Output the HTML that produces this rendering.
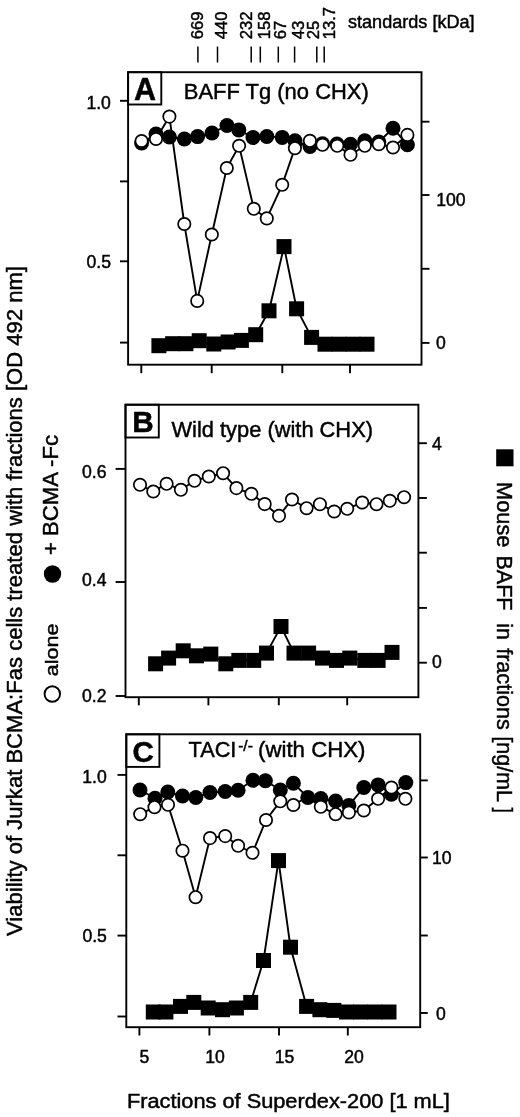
<!DOCTYPE html>
<html><head><meta charset="utf-8"><title>Figure</title>
<style>
html,body{margin:0;padding:0;background:#fff;}
svg{display:block;}
svg text{font-family:"Liberation Sans", sans-serif;fill:#000;stroke:#000;stroke-width:0.45px;}
</style></head>
<body>
<svg width="520" height="1117" viewBox="0 0 520 1117">
<rect x="0" y="0" width="520" height="1117" fill="#fff"/>
<line x1="197.9" y1="46.5" x2="197.9" y2="62.5" stroke="#000" stroke-width="1.5"/>
<text x="203.0" y="39.2" font-size="16.6" text-anchor="start" font-weight="normal" transform="rotate(-90 203.0 39.2)">669</text>
<line x1="217.5" y1="46.5" x2="217.5" y2="62.5" stroke="#000" stroke-width="1.5"/>
<text x="227.0" y="39.2" font-size="16.6" text-anchor="start" font-weight="normal" transform="rotate(-90 227.0 39.2)">440</text>
<line x1="251.2" y1="46.5" x2="251.2" y2="62.5" stroke="#000" stroke-width="1.5"/>
<text x="252.4" y="39.2" font-size="16.6" text-anchor="start" font-weight="normal" transform="rotate(-90 252.4 39.2)">232</text>
<line x1="260.3" y1="46.5" x2="260.3" y2="62.5" stroke="#000" stroke-width="1.5"/>
<text x="270.0" y="39.2" font-size="16.6" text-anchor="start" font-weight="normal" transform="rotate(-90 270.0 39.2)">158</text>
<line x1="278.3" y1="46.5" x2="278.3" y2="62.5" stroke="#000" stroke-width="1.5"/>
<text x="286.0" y="39.2" font-size="16.6" text-anchor="start" font-weight="normal" transform="rotate(-90 286.0 39.2)">67</text>
<line x1="294.6" y1="46.5" x2="294.6" y2="62.5" stroke="#000" stroke-width="1.5"/>
<text x="304.0" y="39.2" font-size="16.6" text-anchor="start" font-weight="normal" transform="rotate(-90 304.0 39.2)">43</text>
<line x1="316.8" y1="46.5" x2="316.8" y2="62.5" stroke="#000" stroke-width="1.5"/>
<text x="319.0" y="39.2" font-size="16.6" text-anchor="start" font-weight="normal" transform="rotate(-90 319.0 39.2)">25</text>
<line x1="324.2" y1="46.5" x2="324.2" y2="62.5" stroke="#000" stroke-width="1.5"/>
<text x="335.4" y="39.2" font-size="16.6" text-anchor="start" font-weight="normal" transform="rotate(-90 335.4 39.2)">13.7</text>
<text x="348" y="28.2" font-size="18" text-anchor="start" font-weight="normal" textLength="126.6" lengthAdjust="spacingAndGlyphs">standards [kDa]</text>
<rect x="128.1" y="72.2" width="293.4" height="292.5" fill="none" stroke="#000" stroke-width="1.9"/>
<line x1="120" y1="100.8" x2="128.1" y2="100.8" stroke="#000" stroke-width="1.9"/>
<line x1="120" y1="181.4" x2="128.1" y2="181.4" stroke="#000" stroke-width="1.9"/>
<line x1="120" y1="261.3" x2="128.1" y2="261.3" stroke="#000" stroke-width="1.9"/>
<line x1="120" y1="342.6" x2="128.1" y2="342.6" stroke="#000" stroke-width="1.9"/>
<line x1="421.5" y1="121.7" x2="429.5" y2="121.7" stroke="#000" stroke-width="1.9"/>
<line x1="421.5" y1="195" x2="429.5" y2="195" stroke="#000" stroke-width="1.9"/>
<line x1="421.5" y1="268.8" x2="429.5" y2="268.8" stroke="#000" stroke-width="1.9"/>
<line x1="421.5" y1="342.9" x2="429.5" y2="342.9" stroke="#000" stroke-width="1.9"/>
<line x1="141.3" y1="364.7" x2="141.3" y2="373.2" stroke="#000" stroke-width="1.9"/>
<line x1="211.7" y1="364.7" x2="211.7" y2="373.2" stroke="#000" stroke-width="1.9"/>
<line x1="282.3" y1="364.7" x2="282.3" y2="373.2" stroke="#000" stroke-width="1.9"/>
<line x1="350" y1="364.7" x2="350" y2="373.2" stroke="#000" stroke-width="1.9"/>
<rect x="128.1" y="72.2" width="33.2" height="32.3" fill="none" stroke="#000" stroke-width="1.9"/>
<text x="145.0" y="100" font-size="30.5" text-anchor="middle" font-weight="bold">A</text>
<text x="183.8" y="99.2" font-size="21.7" text-anchor="start" font-weight="normal" textLength="185" lengthAdjust="spacingAndGlyphs">BAFF Tg (no CHX)</text>
<text x="110.9" y="109.3" font-size="17.6" text-anchor="end" font-weight="normal">1.0</text>
<text x="111.0" y="268.3" font-size="17.6" text-anchor="end" font-weight="normal">0.5</text>
<text x="436.3" y="205.5" font-size="17.6" text-anchor="start" font-weight="normal">100</text>
<text x="436.0" y="348.6" font-size="17.6" text-anchor="start" font-weight="normal">0</text>
<polyline fill="none" stroke="#000" stroke-width="1.9" points="141.6,143 156,134 169.4,137 184.4,139 197.6,136.6 212,133 227,125.5 238.8,129.9 253,137.5 266.8,136.5 282.2,137.4 295,140.8 310,146.5 322.5,143.8 337,144 350.5,144.2 364.8,140.8 378.8,142 393,128.2 407.4,144.8"/>
<circle cx="141.6" cy="143" r="7.5" fill="#000"/>
<circle cx="156" cy="134" r="7.5" fill="#000"/>
<circle cx="169.4" cy="137" r="7.5" fill="#000"/>
<circle cx="184.4" cy="139" r="7.5" fill="#000"/>
<circle cx="197.6" cy="136.6" r="7.5" fill="#000"/>
<circle cx="212" cy="133" r="7.5" fill="#000"/>
<circle cx="227" cy="125.5" r="7.5" fill="#000"/>
<circle cx="238.8" cy="129.9" r="7.5" fill="#000"/>
<circle cx="253" cy="137.5" r="7.5" fill="#000"/>
<circle cx="266.8" cy="136.5" r="7.5" fill="#000"/>
<circle cx="282.2" cy="137.4" r="7.5" fill="#000"/>
<circle cx="295" cy="140.8" r="7.5" fill="#000"/>
<circle cx="310" cy="146.5" r="7.5" fill="#000"/>
<circle cx="322.5" cy="143.8" r="7.5" fill="#000"/>
<circle cx="337" cy="144" r="7.5" fill="#000"/>
<circle cx="350.5" cy="144.2" r="7.5" fill="#000"/>
<circle cx="364.8" cy="140.8" r="7.5" fill="#000"/>
<circle cx="378.8" cy="142" r="7.5" fill="#000"/>
<circle cx="393" cy="128.2" r="7.5" fill="#000"/>
<circle cx="407.4" cy="144.8" r="7.5" fill="#000"/>
<polyline fill="none" stroke="#000" stroke-width="1.9" points="141.6,141 156,139 169.4,116.6 184.3,224 197.2,300.9 211.8,234.5 226.8,168 239.1,145.8 253.8,208.8 266.8,218.4 282.2,184.8 294.9,148.2 309.9,140.8 322.5,144.8 337.2,145.8 350.5,154.8 364.8,145.8 378.8,144.2 393,147.5 407.4,134.9"/>
<circle cx="141.6" cy="141" r="6.2" fill="#fff" stroke="#000" stroke-width="1.7"/>
<circle cx="156" cy="139" r="6.2" fill="#fff" stroke="#000" stroke-width="1.7"/>
<circle cx="169.4" cy="116.6" r="6.2" fill="#fff" stroke="#000" stroke-width="1.7"/>
<circle cx="184.3" cy="224" r="6.2" fill="#fff" stroke="#000" stroke-width="1.7"/>
<circle cx="197.2" cy="300.9" r="6.2" fill="#fff" stroke="#000" stroke-width="1.7"/>
<circle cx="211.8" cy="234.5" r="6.2" fill="#fff" stroke="#000" stroke-width="1.7"/>
<circle cx="226.8" cy="168" r="6.2" fill="#fff" stroke="#000" stroke-width="1.7"/>
<circle cx="239.1" cy="145.8" r="6.2" fill="#fff" stroke="#000" stroke-width="1.7"/>
<circle cx="253.8" cy="208.8" r="6.2" fill="#fff" stroke="#000" stroke-width="1.7"/>
<circle cx="266.8" cy="218.4" r="6.2" fill="#fff" stroke="#000" stroke-width="1.7"/>
<circle cx="282.2" cy="184.8" r="6.2" fill="#fff" stroke="#000" stroke-width="1.7"/>
<circle cx="294.9" cy="148.2" r="6.2" fill="#fff" stroke="#000" stroke-width="1.7"/>
<circle cx="309.9" cy="140.8" r="6.2" fill="#fff" stroke="#000" stroke-width="1.7"/>
<circle cx="322.5" cy="144.8" r="6.2" fill="#fff" stroke="#000" stroke-width="1.7"/>
<circle cx="337.2" cy="145.8" r="6.2" fill="#fff" stroke="#000" stroke-width="1.7"/>
<circle cx="350.5" cy="154.8" r="6.2" fill="#fff" stroke="#000" stroke-width="1.7"/>
<circle cx="364.8" cy="145.8" r="6.2" fill="#fff" stroke="#000" stroke-width="1.7"/>
<circle cx="378.8" cy="144.2" r="6.2" fill="#fff" stroke="#000" stroke-width="1.7"/>
<circle cx="393" cy="147.5" r="6.2" fill="#fff" stroke="#000" stroke-width="1.7"/>
<circle cx="407.4" cy="134.9" r="6.2" fill="#fff" stroke="#000" stroke-width="1.7"/>
<polyline fill="none" stroke="#000" stroke-width="1.9" points="158.9,345.7 172.6,343.7 185.9,343.7 199.2,340.7 213.8,344 228.1,342 241.4,340.4 255.7,334.7 269,310.8 284,246.6 296.6,308.8 311.6,337.4 325,344.2 339,344.2 353,344.2 367,344.2"/>
<rect x="151.40" y="338.20" width="15" height="15" fill="#000"/>
<rect x="165.10" y="336.20" width="15" height="15" fill="#000"/>
<rect x="178.40" y="336.20" width="15" height="15" fill="#000"/>
<rect x="191.70" y="333.20" width="15" height="15" fill="#000"/>
<rect x="206.30" y="336.50" width="15" height="15" fill="#000"/>
<rect x="220.60" y="334.50" width="15" height="15" fill="#000"/>
<rect x="233.90" y="332.90" width="15" height="15" fill="#000"/>
<rect x="248.20" y="327.20" width="15" height="15" fill="#000"/>
<rect x="261.50" y="303.30" width="15" height="15" fill="#000"/>
<rect x="276.50" y="239.10" width="15" height="15" fill="#000"/>
<rect x="289.10" y="301.30" width="15" height="15" fill="#000"/>
<rect x="304.10" y="329.90" width="15" height="15" fill="#000"/>
<rect x="317.50" y="336.70" width="15" height="15" fill="#000"/>
<rect x="331.50" y="336.70" width="15" height="15" fill="#000"/>
<rect x="345.50" y="336.70" width="15" height="15" fill="#000"/>
<rect x="359.50" y="336.70" width="15" height="15" fill="#000"/>
<rect x="125.5" y="404.7" width="292.9" height="292.50000000000006" fill="none" stroke="#000" stroke-width="1.9"/>
<line x1="115.6" y1="468.9" x2="125.5" y2="468.9" stroke="#000" stroke-width="1.9"/>
<line x1="115.6" y1="582" x2="125.5" y2="582" stroke="#000" stroke-width="1.9"/>
<line x1="115.6" y1="696.0" x2="125.5" y2="696.0" stroke="#000" stroke-width="1.9"/>
<line x1="418.4" y1="443.2" x2="426.9" y2="443.2" stroke="#000" stroke-width="1.9"/>
<line x1="418.4" y1="498" x2="426.9" y2="498" stroke="#000" stroke-width="1.9"/>
<line x1="418.4" y1="552.7" x2="426.9" y2="552.7" stroke="#000" stroke-width="1.9"/>
<line x1="418.4" y1="607.9" x2="426.9" y2="607.9" stroke="#000" stroke-width="1.9"/>
<line x1="418.4" y1="662.7" x2="426.9" y2="662.7" stroke="#000" stroke-width="1.9"/>
<line x1="138.8" y1="697.2" x2="138.8" y2="705.3" stroke="#000" stroke-width="1.9"/>
<line x1="208.4" y1="697.2" x2="208.4" y2="705.3" stroke="#000" stroke-width="1.9"/>
<line x1="278.8" y1="697.2" x2="278.8" y2="705.3" stroke="#000" stroke-width="1.9"/>
<line x1="347.2" y1="697.2" x2="347.2" y2="705.3" stroke="#000" stroke-width="1.9"/>
<rect x="125.5" y="404.7" width="33.3" height="32.8" fill="none" stroke="#000" stroke-width="1.9"/>
<text x="142.9" y="432.4" font-size="29.7" text-anchor="middle" font-weight="bold">B</text>
<text x="171.5" y="436.8" font-size="21.7" text-anchor="start" font-weight="normal" textLength="201.5" lengthAdjust="spacingAndGlyphs">Wild type (with CHX)</text>
<text x="106.5" y="478.0" font-size="17.6" text-anchor="end" font-weight="normal">0.6</text>
<text x="106.5" y="586.0" font-size="17.6" text-anchor="end" font-weight="normal">0.4</text>
<text x="106.5" y="701.7" font-size="17.6" text-anchor="end" font-weight="normal">0.2</text>
<text x="432" y="450.4" font-size="17.6" text-anchor="start" font-weight="normal">4</text>
<text x="432" y="668.4" font-size="17.6" text-anchor="start" font-weight="normal">0</text>
<polyline fill="none" stroke="#000" stroke-width="1.9" points="140,484.8 153.3,491.5 166.6,483.8 180.9,489.8 194.5,480.8 208.8,476.5 223.1,473.2 236.4,488.1 251.4,493.8 264.7,504.1 279,515.8 292,499.5 306.6,508.2 319.9,504.2 334.2,511.5 347.2,508.8 362.2,502.5 376.5,504.2 389.8,500.8 404.1,497.2"/>
<circle cx="140" cy="484.8" r="6.2" fill="#fff" stroke="#000" stroke-width="1.7"/>
<circle cx="153.3" cy="491.5" r="6.2" fill="#fff" stroke="#000" stroke-width="1.7"/>
<circle cx="166.6" cy="483.8" r="6.2" fill="#fff" stroke="#000" stroke-width="1.7"/>
<circle cx="180.9" cy="489.8" r="6.2" fill="#fff" stroke="#000" stroke-width="1.7"/>
<circle cx="194.5" cy="480.8" r="6.2" fill="#fff" stroke="#000" stroke-width="1.7"/>
<circle cx="208.8" cy="476.5" r="6.2" fill="#fff" stroke="#000" stroke-width="1.7"/>
<circle cx="223.1" cy="473.2" r="6.2" fill="#fff" stroke="#000" stroke-width="1.7"/>
<circle cx="236.4" cy="488.1" r="6.2" fill="#fff" stroke="#000" stroke-width="1.7"/>
<circle cx="251.4" cy="493.8" r="6.2" fill="#fff" stroke="#000" stroke-width="1.7"/>
<circle cx="264.7" cy="504.1" r="6.2" fill="#fff" stroke="#000" stroke-width="1.7"/>
<circle cx="279" cy="515.8" r="6.2" fill="#fff" stroke="#000" stroke-width="1.7"/>
<circle cx="292" cy="499.5" r="6.2" fill="#fff" stroke="#000" stroke-width="1.7"/>
<circle cx="306.6" cy="508.2" r="6.2" fill="#fff" stroke="#000" stroke-width="1.7"/>
<circle cx="319.9" cy="504.2" r="6.2" fill="#fff" stroke="#000" stroke-width="1.7"/>
<circle cx="334.2" cy="511.5" r="6.2" fill="#fff" stroke="#000" stroke-width="1.7"/>
<circle cx="347.2" cy="508.8" r="6.2" fill="#fff" stroke="#000" stroke-width="1.7"/>
<circle cx="362.2" cy="502.5" r="6.2" fill="#fff" stroke="#000" stroke-width="1.7"/>
<circle cx="376.5" cy="504.2" r="6.2" fill="#fff" stroke="#000" stroke-width="1.7"/>
<circle cx="389.8" cy="500.8" r="6.2" fill="#fff" stroke="#000" stroke-width="1.7"/>
<circle cx="404.1" cy="497.2" r="6.2" fill="#fff" stroke="#000" stroke-width="1.7"/>
<polyline fill="none" stroke="#000" stroke-width="1.9" points="155.6,663.8 168.6,658.1 183.2,650.8 196.5,655.8 210.8,654.1 225.8,663.8 238.8,660.4 253.7,660.4 266.5,653.1 281,626.5 294,653.1 308.6,653.1 322.5,658.1 336.5,660.4 349.8,658.1 364.8,660.4 378.1,660.4 392,652.4"/>
<rect x="148.10" y="656.30" width="15" height="15" fill="#000"/>
<rect x="161.10" y="650.60" width="15" height="15" fill="#000"/>
<rect x="175.70" y="643.30" width="15" height="15" fill="#000"/>
<rect x="189.00" y="648.30" width="15" height="15" fill="#000"/>
<rect x="203.30" y="646.60" width="15" height="15" fill="#000"/>
<rect x="218.30" y="656.30" width="15" height="15" fill="#000"/>
<rect x="231.30" y="652.90" width="15" height="15" fill="#000"/>
<rect x="246.20" y="652.90" width="15" height="15" fill="#000"/>
<rect x="259.00" y="645.60" width="15" height="15" fill="#000"/>
<rect x="273.50" y="619.00" width="15" height="15" fill="#000"/>
<rect x="286.50" y="645.60" width="15" height="15" fill="#000"/>
<rect x="301.10" y="645.60" width="15" height="15" fill="#000"/>
<rect x="315.00" y="650.60" width="15" height="15" fill="#000"/>
<rect x="329.00" y="652.90" width="15" height="15" fill="#000"/>
<rect x="342.30" y="650.60" width="15" height="15" fill="#000"/>
<rect x="357.30" y="652.90" width="15" height="15" fill="#000"/>
<rect x="370.60" y="652.90" width="15" height="15" fill="#000"/>
<rect x="384.50" y="644.90" width="15" height="15" fill="#000"/>
<rect x="126.3" y="734.3" width="293.9" height="292.9000000000001" fill="none" stroke="#000" stroke-width="1.9"/>
<line x1="117.5" y1="774.9" x2="126.3" y2="774.9" stroke="#000" stroke-width="1.9"/>
<line x1="117.5" y1="855.3" x2="126.3" y2="855.3" stroke="#000" stroke-width="1.9"/>
<line x1="117.5" y1="935.6" x2="126.3" y2="935.6" stroke="#000" stroke-width="1.9"/>
<line x1="117.5" y1="1016.5" x2="126.3" y2="1016.5" stroke="#000" stroke-width="1.9"/>
<line x1="420.2" y1="780.4" x2="427.8" y2="780.4" stroke="#000" stroke-width="1.9"/>
<line x1="420.2" y1="857.5" x2="427.8" y2="857.5" stroke="#000" stroke-width="1.9"/>
<line x1="420.2" y1="935.5" x2="427.8" y2="935.5" stroke="#000" stroke-width="1.9"/>
<line x1="420.2" y1="1013" x2="427.8" y2="1013" stroke="#000" stroke-width="1.9"/>
<line x1="139.4" y1="1027.2" x2="139.4" y2="1035.5" stroke="#000" stroke-width="1.9"/>
<line x1="209.4" y1="1027.2" x2="209.4" y2="1035.5" stroke="#000" stroke-width="1.9"/>
<line x1="279" y1="1027.2" x2="279" y2="1035.5" stroke="#000" stroke-width="1.9"/>
<line x1="347.8" y1="1027.2" x2="347.8" y2="1035.5" stroke="#000" stroke-width="1.9"/>
<rect x="126.3" y="734.3" width="33.1" height="32.6" fill="none" stroke="#000" stroke-width="1.9"/>
<text x="143.2" y="762.3" font-size="29.5" text-anchor="middle" font-weight="bold">C</text>
<text x="188.6" y="757.4" font-size="21.7" text-anchor="start" font-weight="normal">TACI</text>
<text x="238.2" y="751" font-size="15.5" text-anchor="start" font-weight="normal">-/-</text>
<text x="258" y="757.4" font-size="21.7" text-anchor="start" font-weight="normal" textLength="107.5" lengthAdjust="spacingAndGlyphs">(with CHX)</text>
<text x="106.8" y="783.3" font-size="17.6" text-anchor="end" font-weight="normal">1.0</text>
<text x="106.9" y="941.7" font-size="17.6" text-anchor="end" font-weight="normal">0.5</text>
<text x="432.0" y="863.8" font-size="17.6" text-anchor="start" font-weight="normal">10</text>
<text x="436" y="1019.5" font-size="17.6" text-anchor="start" font-weight="normal">0</text>
<polyline fill="none" stroke="#000" stroke-width="1.9" points="140.2,814.2 154.5,807.2 168,804.8 182.5,850.7 195.6,897.2 210,838.1 225.2,836.1 238.1,845.8 252.5,852.8 266,820 280.3,801.3 293.4,805 307.6,797 320.8,806.8 335.6,814.2 348.9,812.5 363.8,810.5 378.1,798.8 391.4,787.5 405.4,798.8"/>
<polyline fill="none" stroke="#000" stroke-width="1.9" points="140,790 155,798.3 167.8,792 182.5,796 195.8,797.5 210,792.5 225.2,791.5 238.1,790.2 253,780.3 265.4,780.8 280.3,790 293.4,783.2 307.8,797.4 320.8,798.6 335.6,801 348.9,805.4 363.8,787.5 378.1,784.9 391.4,794.2 405.8,782.6"/>
<circle cx="140" cy="790" r="7.5" fill="#000"/>
<circle cx="155" cy="798.3" r="7.5" fill="#000"/>
<circle cx="167.8" cy="792" r="7.5" fill="#000"/>
<circle cx="182.5" cy="796" r="7.5" fill="#000"/>
<circle cx="195.8" cy="797.5" r="7.5" fill="#000"/>
<circle cx="210" cy="792.5" r="7.5" fill="#000"/>
<circle cx="225.2" cy="791.5" r="7.5" fill="#000"/>
<circle cx="238.1" cy="790.2" r="7.5" fill="#000"/>
<circle cx="253" cy="780.3" r="7.5" fill="#000"/>
<circle cx="265.4" cy="780.8" r="7.5" fill="#000"/>
<circle cx="280.3" cy="790" r="7.5" fill="#000"/>
<circle cx="293.4" cy="783.2" r="7.5" fill="#000"/>
<circle cx="307.8" cy="797.4" r="7.5" fill="#000"/>
<circle cx="320.8" cy="798.6" r="7.5" fill="#000"/>
<circle cx="335.6" cy="801" r="7.5" fill="#000"/>
<circle cx="348.9" cy="805.4" r="7.5" fill="#000"/>
<circle cx="363.8" cy="787.5" r="7.5" fill="#000"/>
<circle cx="378.1" cy="784.9" r="7.5" fill="#000"/>
<circle cx="391.4" cy="794.2" r="7.5" fill="#000"/>
<circle cx="405.8" cy="782.6" r="7.5" fill="#000"/>
<circle cx="140.2" cy="814.2" r="6.2" fill="#fff" stroke="#000" stroke-width="1.7"/>
<circle cx="154.5" cy="807.2" r="6.2" fill="#fff" stroke="#000" stroke-width="1.7"/>
<circle cx="168" cy="804.8" r="6.2" fill="#fff" stroke="#000" stroke-width="1.7"/>
<circle cx="182.5" cy="850.7" r="6.2" fill="#fff" stroke="#000" stroke-width="1.7"/>
<circle cx="195.6" cy="897.2" r="6.2" fill="#fff" stroke="#000" stroke-width="1.7"/>
<circle cx="210" cy="838.1" r="6.2" fill="#fff" stroke="#000" stroke-width="1.7"/>
<circle cx="225.2" cy="836.1" r="6.2" fill="#fff" stroke="#000" stroke-width="1.7"/>
<circle cx="238.1" cy="845.8" r="6.2" fill="#fff" stroke="#000" stroke-width="1.7"/>
<circle cx="252.5" cy="852.8" r="6.2" fill="#fff" stroke="#000" stroke-width="1.7"/>
<circle cx="266" cy="820" r="6.2" fill="#fff" stroke="#000" stroke-width="1.7"/>
<circle cx="280.3" cy="801.3" r="6.2" fill="#fff" stroke="#000" stroke-width="1.7"/>
<circle cx="293.4" cy="805" r="6.2" fill="#fff" stroke="#000" stroke-width="1.7"/>
<circle cx="320.8" cy="806.8" r="6.2" fill="#fff" stroke="#000" stroke-width="1.7"/>
<circle cx="335.6" cy="814.2" r="6.2" fill="#fff" stroke="#000" stroke-width="1.7"/>
<circle cx="348.9" cy="812.5" r="6.2" fill="#fff" stroke="#000" stroke-width="1.7"/>
<circle cx="363.8" cy="810.5" r="6.2" fill="#fff" stroke="#000" stroke-width="1.7"/>
<circle cx="378.1" cy="798.8" r="6.2" fill="#fff" stroke="#000" stroke-width="1.7"/>
<circle cx="391.4" cy="787.5" r="6.2" fill="#fff" stroke="#000" stroke-width="1.7"/>
<circle cx="405.4" cy="798.8" r="6.2" fill="#fff" stroke="#000" stroke-width="1.7"/>
<polyline fill="none" stroke="#000" stroke-width="1.9" points="153.3,1012 165.9,1012 180.5,1006.4 193.8,1002.4 208.2,1008 222.5,1009.7 236.4,1008 250.7,1002.4 263.5,960.5 278.5,860.6 290.5,947.2 306.6,1006.4 319.9,1009.7 333.8,1010.4 346.5,1012 360.5,1012 374.8,1012 389,1012"/>
<rect x="145.80" y="1004.50" width="15" height="15" fill="#000"/>
<rect x="158.40" y="1004.50" width="15" height="15" fill="#000"/>
<rect x="173.00" y="998.90" width="15" height="15" fill="#000"/>
<rect x="186.30" y="994.90" width="15" height="15" fill="#000"/>
<rect x="200.70" y="1000.50" width="15" height="15" fill="#000"/>
<rect x="215.00" y="1002.20" width="15" height="15" fill="#000"/>
<rect x="228.90" y="1000.50" width="15" height="15" fill="#000"/>
<rect x="243.20" y="994.90" width="15" height="15" fill="#000"/>
<rect x="256.00" y="953.00" width="15" height="15" fill="#000"/>
<rect x="271.00" y="853.10" width="15" height="15" fill="#000"/>
<rect x="283.00" y="939.70" width="15" height="15" fill="#000"/>
<rect x="299.10" y="998.90" width="15" height="15" fill="#000"/>
<rect x="312.40" y="1002.20" width="15" height="15" fill="#000"/>
<rect x="326.30" y="1002.90" width="15" height="15" fill="#000"/>
<rect x="339.00" y="1004.50" width="15" height="15" fill="#000"/>
<rect x="353.00" y="1004.50" width="15" height="15" fill="#000"/>
<rect x="367.30" y="1004.50" width="15" height="15" fill="#000"/>
<rect x="381.50" y="1004.50" width="15" height="15" fill="#000"/>
<text x="144.5" y="1062.7" font-size="17.6" text-anchor="middle" font-weight="normal">5</text>
<text x="215" y="1062.7" font-size="17.6" text-anchor="middle" font-weight="normal">10</text>
<text x="284.5" y="1062.7" font-size="17.6" text-anchor="middle" font-weight="normal">15</text>
<text x="354" y="1062.7" font-size="17.6" text-anchor="middle" font-weight="normal">20</text>
<text x="126.9" y="1108.0" font-size="19.5" text-anchor="start" font-weight="normal" textLength="323" lengthAdjust="spacingAndGlyphs">Fractions of Superdex-200 [1 mL]</text>
<text x="22.2" y="936.0" font-size="21.6" text-anchor="start" font-weight="normal" transform="rotate(-90 22.2 936.0)" textLength="670" lengthAdjust="spacingAndGlyphs">Viability of Jurkat BCMA:Fas cells treated with fractions [OD 492 nm]</text>
<circle cx="52.3" cy="694.0" r="7.75" fill="#fff" stroke="#000" stroke-width="1.9"/>
<text x="57.7" y="676.2" font-size="18.5" text-anchor="start" font-weight="normal" transform="rotate(-90 57.7 676.2)" textLength="52.6" lengthAdjust="spacingAndGlyphs">alone</text>
<circle cx="52.5" cy="574.0" r="8.7" fill="#000"/>
<text x="57.7" y="555" font-size="21.6" text-anchor="start" font-weight="normal" transform="rotate(-90 57.7 555)" textLength="120" lengthAdjust="spacingAndGlyphs">+ BCMA -Fc</text>
<rect x="496.2" y="449.3" width="17.3" height="17" fill="#000"/>
<text x="497.0" y="482.0" font-size="21.8" text-anchor="start" font-weight="normal" transform="rotate(90 497.0 482.0)" textLength="65.5" lengthAdjust="spacingAndGlyphs">Mouse</text>
<text x="497.0" y="555.5" font-size="21.8" text-anchor="start" font-weight="normal" transform="rotate(90 497.0 555.5)" textLength="55" lengthAdjust="spacingAndGlyphs">BAFF</text>
<text x="497.0" y="623.2" font-size="21.8" text-anchor="start" font-weight="normal" transform="rotate(90 497.0 623.2)" textLength="16.5" lengthAdjust="spacingAndGlyphs">in</text>
<text x="497.0" y="648.2" font-size="21.8" text-anchor="start" font-weight="normal" transform="rotate(90 497.0 648.2)" textLength="81.5" lengthAdjust="spacingAndGlyphs">fractions</text>
<text x="497.0" y="736.4" font-size="21.8" text-anchor="start" font-weight="normal" transform="rotate(90 497.0 736.4)" textLength="65.5" lengthAdjust="spacingAndGlyphs">[ng/mL</text>
<text x="497.0" y="807.6" font-size="21.8" text-anchor="start" font-weight="normal" transform="rotate(90 497.0 807.6)" textLength="5.5" lengthAdjust="spacingAndGlyphs">]</text>
</svg>
</body></html>
